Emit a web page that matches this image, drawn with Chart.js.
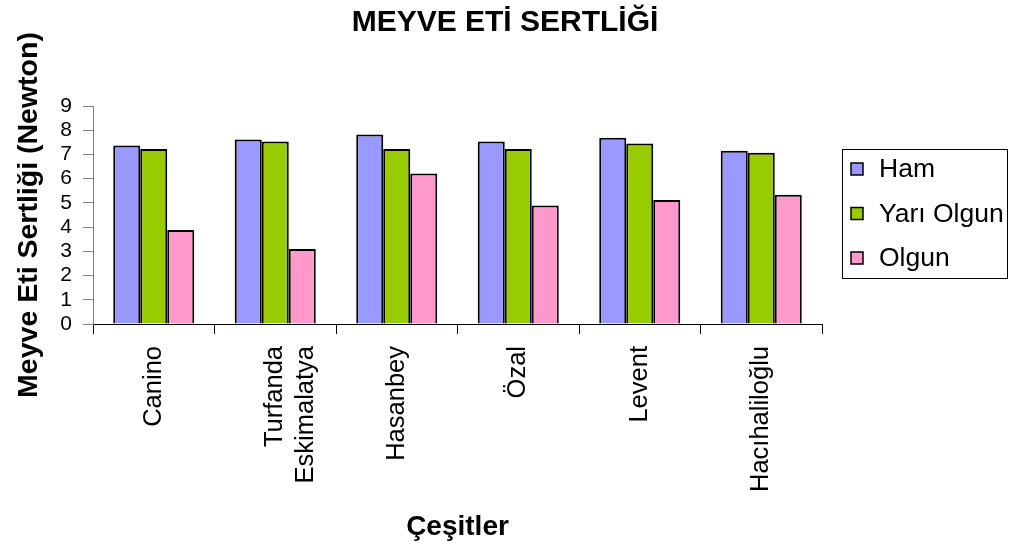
<!DOCTYPE html>
<html>
<head>
<meta charset="utf-8">
<script src="https://cdn.jsdelivr.net/npm/chart.js@4/dist/chart.umd.min.js"></script>
<style>
    body { margin: 0; background: #fff; }
    #wrap { width: 1010px; height: 550px; }
</style>
</head>
<body>
<div id="wrap"><canvas id="myChart" width="1010" height="550"></canvas></div>
<script>
var categories = ['Canino', ['Turfanda', 'Eskimalatya'], 'Hasanbey', 'Özal', 'Levent', 'Hacıhaliloğlu'];
var seriesNames = ['Ham', 'Yarı Olgun', 'Olgun'];
var hamValues = [7.37, 7.62, 7.82, 7.53, 7.69, 7.15];
var yariOlgunValues = [7.22, 7.53, 7.22, 7.22, 7.45, 7.07];
var olgunValues = [3.88, 3.10, 6.21, 4.89, 5.12, 5.34];
var yMin = 0, yMax = 9, yStep = 1;

(function () {
    var FONT = "'Liberation Sans', Arial, sans-serif";
    var colors = ['#9999ff', '#99cc00', '#ff99cc'];

    // legend with a frame, drawn in the space right of the plot
    var boxLegend = {
        id: 'boxLegend',
        afterDraw: function (chart) {
            var c = chart.ctx;
            c.save();
            c.strokeStyle = '#000';
            c.lineWidth = 1;
            c.strokeRect(842.5, 149.5, 165, 129);
            c.font = '26.5px ' + FONT;
            c.textBaseline = 'middle';
            chart.data.datasets.forEach(function (ds, i) {
                var cy = 169 + i * 44.5;
                c.fillStyle = ds.backgroundColor;
                c.fillRect(851, cy - 6, 12, 12);
                c.strokeStyle = '#000';
                c.lineWidth = 1.5;
                c.strokeRect(851, cy - 6, 12, 12);
                c.fillStyle = '#000';
                c.fillText(ds.label, 879, cy + 1);
            });
            c.restore();
        }
    };

    var ctx = document.getElementById('myChart');
    new Chart(ctx, {
        type: 'bar',
        plugins: [boxLegend],
        data: {
            labels: categories,
            datasets: [
                { label: seriesNames[0], data: hamValues, backgroundColor: colors[0] },
                { label: seriesNames[1], data: yariOlgunValues, backgroundColor: colors[1] },
                { label: seriesNames[2], data: olgunValues, backgroundColor: colors[2] }
            ].map(function (d) {
                d.borderColor = '#000';
                d.borderWidth = 2;
                d.categoryPercentage = 0.667;
                d.barPercentage = 1;
                return d;
            })
        },
        options: {
            responsive: false,
            animation: false,
            plugins: {
                legend: { display: false },
                tooltip: { enabled: false },
                title: {
                    display: true,
                    text: 'MEYVE ETİ SERTLİĞİ',
                    color: '#000',
                    font: { family: FONT, size: 30, weight: 'bold', lineHeight: 1.2 },
                    padding: { top: 5, bottom: 65 }
                }
            },
            scales: {
                x: {
                    afterFit: function (scale) { scale.height = 226; },
                    grid: { drawOnChartArea: false, tickLength: 10, color: '#000', offset: true },
                    border: { color: '#000', width: 1 },
                    ticks: {
                        color: '#000',
                        minRotation: 90,
                        maxRotation: 90,
                        autoSkip: false,
                        padding: 12,
                        font: { family: FONT, size: 25.5 }
                    },
                    title: {
                        display: true,
                        text: 'Çeşitler',
                        color: '#000',
                        font: { family: FONT, size: 28, weight: 'bold', lineHeight: 1.2 },
                        padding: { top: 0, bottom: 6 }
                    }
                },
                y: {
                    min: yMin,
                    max: yMax,
                    afterFit: function (scale) { scale.width = 93; },
                    grid: { drawOnChartArea: false, tickLength: 10, color: '#808080' },
                    border: { color: '#808080', width: 1 },
                    ticks: {
                        stepSize: yStep,
                        autoSkip: false,
                        color: '#000',
                        padding: 11,
                        font: { family: FONT, size: 21, lineHeight: 1 }
                    },
                    title: {
                        display: true,
                        text: 'Meyve Eti Sertliği (Newton)',
                        color: '#000',
                        font: { family: FONT, size: 28.5, weight: 'bold', lineHeight: 1.2 },
                        padding: { top: 12, bottom: 0 }
                    }
                },
                // empty axis that only reserves room for the legend
                legendSpace: {
                    type: 'linear',
                    position: 'right',
                    afterFit: function (scale) { scale.width = 188; },
                    grid: { display: false },
                    border: { display: false },
                    ticks: { display: false }
                }
            }
        }
    });
})()
</script>
</body>
</html>
